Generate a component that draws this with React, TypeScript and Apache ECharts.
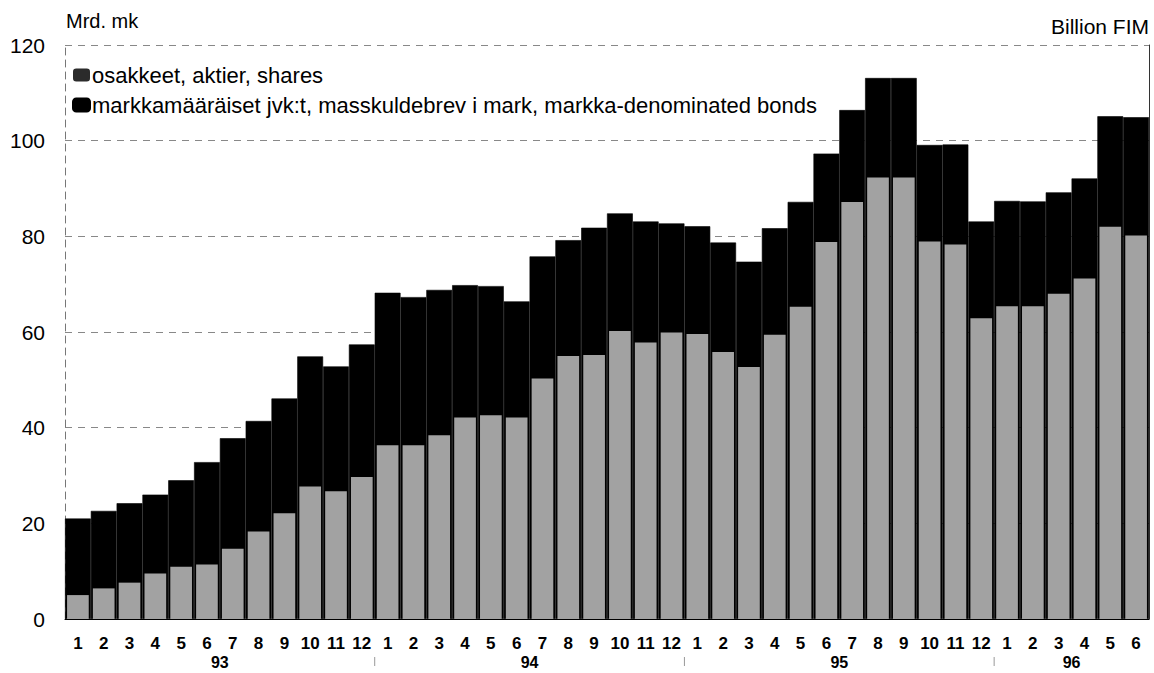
import React, { useEffect, useRef } from "react";
import * as echarts from "echarts";

const years = ["93", "94", "95", "96"];
const monthsPerYear = [12, 12, 12, 6];
const categories: string[] = [];
years.forEach((y, i) => {
  for (let m = 1; m <= monthsPerYear[i]; m++) categories.push(y + "-" + m);
});

// total height of each bar (shares + markka-denominated bonds), bn FIM
const totalValues = [
  21.0, 22.6, 24.2, 26.0, 29.0, 32.8, 37.8, 41.4, 46.1, 54.9, 52.8, 57.4,
  68.2, 67.3, 68.8, 69.8, 69.6, 66.4, 75.8, 79.2, 81.8, 84.8, 83.1, 82.7,
  82.1, 78.7, 74.7, 81.7, 87.2, 97.3, 106.4, 113.1, 113.1, 99.1, 99.2, 83.1,
  87.4, 87.3, 89.2, 92.1, 105.1, 104.9,
];
// shares
const sharesValues = [
  5.0, 6.4, 7.6, 9.5, 10.9, 11.4, 14.7, 18.3, 22.1, 27.7, 26.7, 29.7,
  36.3, 36.3, 38.4, 42.1, 42.6, 42.1, 50.3, 55.0, 55.2, 60.2, 57.8, 59.9,
  59.6, 55.8, 52.7, 59.4, 65.3, 78.8, 87.2, 92.3, 92.3, 78.9, 78.3, 62.9,
  65.4, 65.4, 68.0, 71.2, 82.0, 80.2,
];
const yTicks = [0, 20, 40, 60, 80, 100, 120];

const SHARES = "osakkeet, aktier, shares";
const BONDS = "markkamääräiset jvk:t, masskuldebrev i mark, markka-denominated bonds";
const FONT = "Liberation Sans, Arial, sans-serif";

export default function App() {
  const ref = useRef<HTMLDivElement>(null);
  useEffect(() => {
    if (!ref.current) return;
    const chart = echarts.init(ref.current, null, { renderer: "svg" });
    chart.setOption({
      animation: false,
      backgroundColor: "#ffffff",
      textStyle: { fontFamily: FONT },
      grid: { left: 65, right: 5, top: 45, bottom: 54, containLabel: false },
      legend: {
        orient: "vertical",
        left: 67,
        top: 59,
        itemWidth: 17,
        itemHeight: 13,
        itemGap: 8,
        selectedMode: false,
        textStyle: { fontSize: 22, color: "#000", fontFamily: FONT, padding: [0, 0, 0, -3] },
        data: [
          { name: SHARES, itemStyle: { color: "#2b2b2b" } },
          { name: BONDS, itemStyle: { color: "#000" } },
        ],
      },
      xAxis: [
        {
          type: "category",
          data: categories,
          axisLine: { show: true, lineStyle: { color: "#000" } },
          axisTick: { show: false },
          axisLabel: {
            interval: 0,
            margin: 16,
            fontSize: 17,
            fontWeight: "bold",
            color: "#000",
            fontFamily: FONT,
            formatter: (v: string) => v.split("-")[1],
          },
        },
        { type: "category", data: categories, show: false },
      ],
      yAxis: [
        {
          type: "value",
          min: 0,
          max: 120,
          interval: 20,
          axisLine: { show: true, lineStyle: { color: "#777", type: [7, 5] } },
          axisTick: { show: false },
          axisLabel: {
            fontSize: 21,
            color: "#000",
            margin: 20,
            padding: [0, 0, 8, 0],
            fontFamily: FONT,
            formatter: (v: number) => (yTicks.includes(v) ? String(v) : ""),
          },
          splitLine: { show: true, lineStyle: { color: "#888", type: [7, 6], width: 1 } },
        },
        {
          type: "value",
          min: 0,
          max: 120,
          interval: 20,
          position: "right",
          axisLine: { show: true, lineStyle: { color: "#333", width: 1 } },
          axisTick: { show: false },
          axisLabel: { show: false },
          splitLine: { show: false },
        },
      ],
      series: [
        {
          name: BONDS,
          type: "bar",
          xAxisIndex: 0,
          yAxisIndex: 0,
          data: totalValues,
          barWidth: "100%",
          itemStyle: { color: "#000", borderColor: "#000", borderWidth: 0.6 },
          z: 2,
        },
        {
          name: SHARES,
          type: "bar",
          xAxisIndex: 1,
          yAxisIndex: 0,
          data: sharesValues,
          barWidth: "84%",
          itemStyle: { color: "#a2a2a2" },
          z: 3,
        },
      ],
    });

    const px = (i: number) => chart.convertToPixel({ xAxisIndex: 0 }, i) as number;
    const graphics: any[] = [
      { type: "text", x: 66, y: 21, style: { text: "Mrd. mk", fontSize: 20, fill: "#000", fontFamily: FONT, verticalAlign: "middle" } },
      { type: "text", x: 1149, y: 26, style: { text: "Billion FIM", fontSize: 21, fill: "#000", fontFamily: FONT, align: "right", verticalAlign: "middle" } },
    ];
    let start = 0;
    years.forEach((y, i) => {
      const end = start + monthsPerYear[i] - 1;
      const cx = (px(start) + px(end)) / 2;
      graphics.push({
        type: "text",
        x: cx,
        y: 662,
        style: { text: y, fontSize: 16, fontWeight: "bold", fill: "#000", align: "center", verticalAlign: "middle", fontFamily: FONT },
      });
      if (i > 0) {
        const bx = (px(start - 1) + px(start)) / 2;
        graphics.push({
          type: "line",
          shape: { x1: bx, y1: 657, x2: bx, y2: 666 },
          style: { stroke: "#999", lineWidth: 1 },
        });
      }
      start = end + 1;
    });
    chart.setOption({ graphic: graphics });
    return () => chart.dispose();
  }, []);
  return (
    <div
      ref={ref}
      style={{ position: "fixed", left: 0, top: 0, width: 1154, height: 673 }}
    />
  );
}
